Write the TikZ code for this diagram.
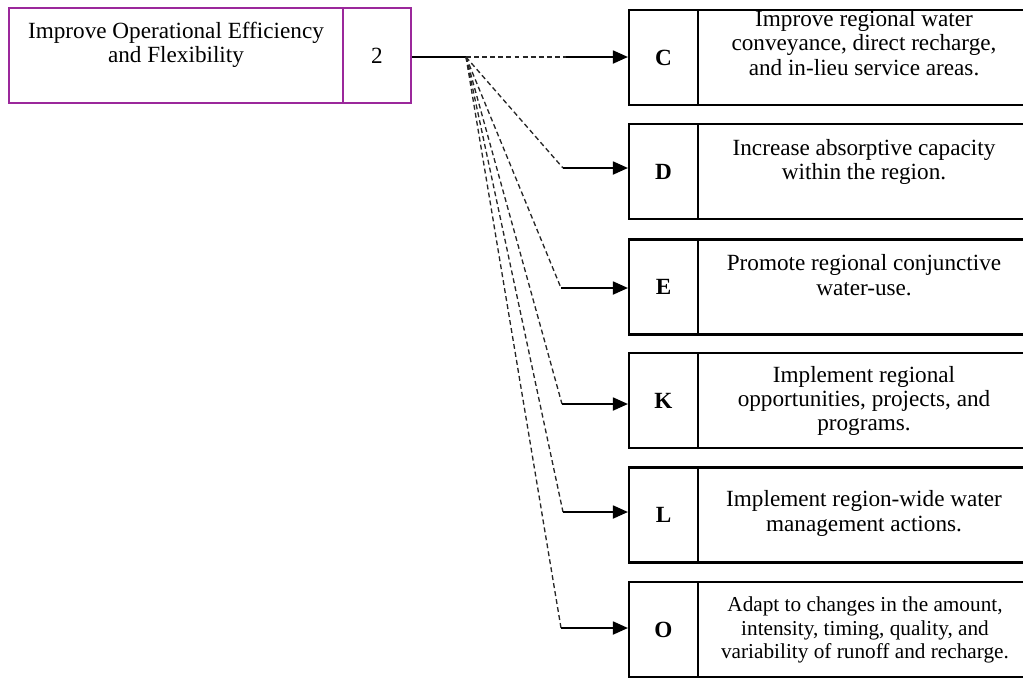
\documentclass[tikz,border=0pt]{standalone}
\usepackage{fontspec}
\setmainfont{Liberation Serif}
\usetikzlibrary{arrows.meta}
\definecolor{goalpurple}{RGB}{155,40,155}

\begin{document}
\begin{tikzpicture}[
x=0.02cm,y=-0.02cm,
goalbox/.style={draw=goalpurple,line width=1.2pt,minimum height=1.9cm,inner sep=0pt},
objbox/.style={draw,line width=1.3pt,minimum height=1.9cm,inner sep=0pt},
txt/.style={font=\fontsize{13.2}{13.8}\selectfont,align=center,inner sep=0pt},
smalltxt/.style={font=\fontsize{12.1}{13.4}\selectfont,align=center,inner sep=0pt},
letter/.style={font=\fontsize{13.2}{13.8}\selectfont\bfseries},
fan/.style={dash pattern=on 2.8pt off 1.8pt,line width=0.75pt,black!85},
arrow/.style={-{Triangle[length=8.5pt,width=7.5pt]},line width=0.7pt} ]

\clip (0,0) rectangle (1023,677);

\node[goalbox,minimum width=6.68cm](goal) at (176,55.5) {};

\node[goalbox,minimum width=1.36cm,txt](num) at (377,55.5) {2};

\node[txt](goaltext) at (176,44.5) {Improve Operational Efficiency\\and Flexibility};

\node[objbox,minimum width=1.38cm,letter](C) at (663.5,57.5) {C};

\node[objbox,minimum width=6.54cm](Cbox) at (861.5,57.5) {};

\node[txt](Ctext) at (864,43) {Improve regional water\\conveyance, direct recharge,\\and in-lieu service areas.};

\node[objbox,minimum width=1.38cm,letter](D) at (663.5,171.5) {D};

\node[objbox,minimum width=6.54cm](Dbox) at (861.5,171.5) {};

\node[txt](Dtext) at (864,162) {Increase absorptive capacity\\within the region.};

\node[objbox,minimum width=1.38cm,letter](E) at (663.5,287) {E};

\node[objbox,minimum width=6.54cm](Ebox) at (861.5,287) {};

\node[txt](Etext) at (864,275) {Promote regional conjunctive\\water-use.};

\node[objbox,minimum width=1.38cm,letter](K) at (663.5,400.5) {K};

\node[objbox,minimum width=6.54cm](Kbox) at (861.5,400.5) {};

\node[txt](Ktext) at (864,401) {Implement regional\\opportunities, projects, and\\programs.};

\node[objbox,minimum width=1.38cm,letter](L) at (663.5,515) {L};

\node[objbox,minimum width=6.54cm](Lbox) at (861.5,515) {};

\node[txt](Ltext) at (864,513.5) {Implement region-wide water\\management actions.};

\node[objbox,minimum width=1.38cm,letter](O) at (663.5,629.5) {O};

\node[objbox,minimum width=6.54cm](Obox) at (861.5,629.5) {};

\node[smalltxt](Otext) at (865,630) {Adapt to changes in the amount,\\intensity, timing, quality, and\\variability of runoff and recharge.};

\coordinate (hub) at (466,57);

\coordinate (Cbend) at (566,57);

\coordinate (Dbend) at (563,168);

\coordinate (Ebend) at (561,288);

\coordinate (Kbend) at (562,404);

\coordinate (Lbend) at (563,512);

\coordinate (Obend) at (561,628);

\draw[line width=0.7pt] (num.east |- hub) -- (hub);

\draw[fan] (hub) -- (Cbend);

\draw[fan] (hub) -- (Dbend);

\draw[fan] (hub) -- (Ebend);

\draw[fan] (hub) -- (Kbend);

\draw[fan] (hub) -- (Lbend);

\draw[fan] (hub) -- (Obend);

\draw[arrow] (Cbend) -- (Cbend -| C.west);

\draw[arrow] (Dbend) -- (Dbend -| D.west);

\draw[arrow] (Ebend) -- (Ebend -| E.west);

\draw[arrow] (Kbend) -- (Kbend -| K.west);

\draw[arrow] (Lbend) -- (Lbend -| L.west);

\draw[arrow] (Obend) -- (Obend -| O.west);

\end{tikzpicture}
\end{document}
